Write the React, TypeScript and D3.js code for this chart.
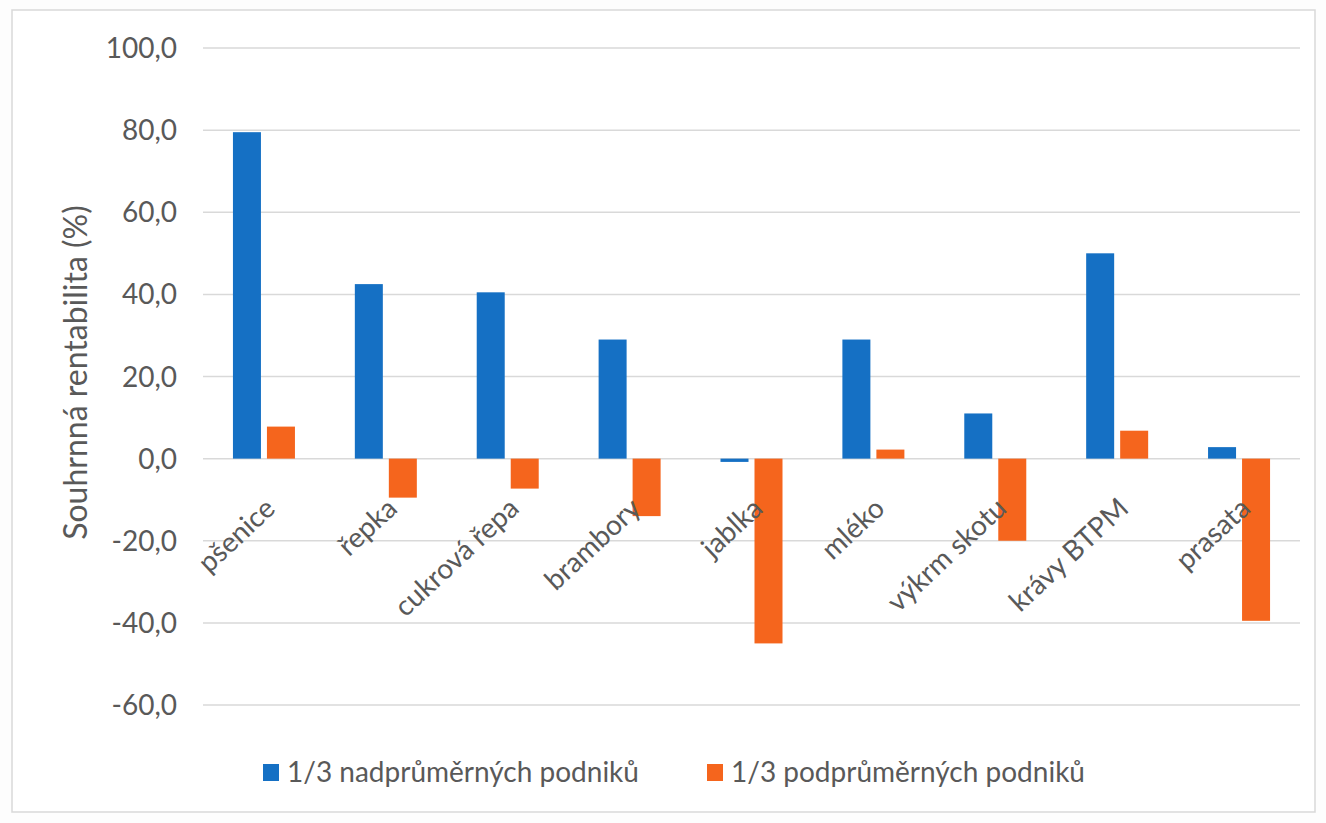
import React from "react";
import * as d3 from "d3";

const categories = ["pšenice", "řepka", "cukrová řepa", "brambory", "jablka", "mléko", "výkrm skotu", "krávy BTPM", "prasata"];
const nadprumerne = [79.5, 42.5, 40.5, 29.0, -0.8, 29.0, 11.0, 50.0, 2.8];
const podprumerne = [7.8, -9.5, -7.3, -14.0, -45.0, 2.2, -20.0, 6.8, -39.5];
const seriesNames = ["1/3 nadprůměrných podniků", "1/3 podprůměrných podniků"];
const seriesColors = ["#1570c4", "#f5651d"];
const yTicks = [-60, -40, -20, 0, 20, 40, 60, 80, 100];

const W = 1326;
const H = 823;
const FONT = "Lato, 'Open Sans', sans-serif";

export default function App() {
  const left = 203, right = 1300, top = 48, bottom = 705;
  const x = d3.scaleBand<string>().domain(categories).range([left, right]).paddingInner(0).paddingOuter(0);
  const y = d3.scaleLinear().domain([-60, 100]).range([bottom, top]);
  const barW = 28;
  const gap = 6;
  const fmt = (v: number) => v.toFixed(1).replace(".", ",");
  const series = [nadprumerne, podprumerne];

  return (
    <div style={{ position: "absolute", left: 0, top: 0, width: W, height: H, background: "#fff" }}>
      <svg width={W} height={H} style={{ display: "block", fontFamily: FONT }}>
        <rect x={0} y={0} width={W} height={H} fill="#fdfdfd" />
        <rect x={12} y={10} width={1303} height={802} fill="#ffffff" stroke="#d9d9d9" strokeWidth={1.5} />
        {yTicks.map((t) => (
          <g key={t}>
            <line x1={left} x2={right} y1={y(t)} y2={y(t)} stroke="#d9d9d9" strokeWidth={1.5} />
            <text x={177} y={y(t)} dy="0.36em" textAnchor="end" fontSize={28} fill="#595959">
              {fmt(t)}
            </text>
          </g>
        ))}
        {categories.map((c, i) => {
          const cx = (x(c) as number) + x.bandwidth() / 2;
          return (
            <g key={c}>
              {series.map((s, k) => {
                const v = s[i];
                const bx = k === 0 ? cx - gap / 2 - barW : cx + gap / 2;
                const y0 = y(0);
                const y1 = y(v);
                return (
                  <rect
                    key={k}
                    x={bx}
                    y={Math.min(y0, y1)}
                    width={barW}
                    height={Math.max(1, Math.abs(y1 - y0))}
                    fill={seriesColors[k]}
                  />
                );
              })}
              <text
                transform={`translate(${cx + 13},${y(0) + 52}) rotate(-43)`}
                textAnchor="end"
                fontSize={28}
                fill="#595959"
              >
                {c}
              </text>
            </g>
          );
        })}
        <text
          transform={`translate(87,${(top + bottom) / 2 - 4}) rotate(-90)`}
          textAnchor="middle"
          fontSize={32}
          fill="#595959"
        >
          Souhrnná rentabilita (%)
        </text>
        {seriesNames.map((n, k) => {
          const lx = k === 0 ? 263 : 707;
          return (
            <g key={n}>
              <rect x={lx} y={764} width={16} height={17} fill={seriesColors[k]} />
              <text x={lx + 24} y={782} fontSize={28} fill="#595959">
                {n}
              </text>
            </g>
          );
        })}
      </svg>
    </div>
  );
}
